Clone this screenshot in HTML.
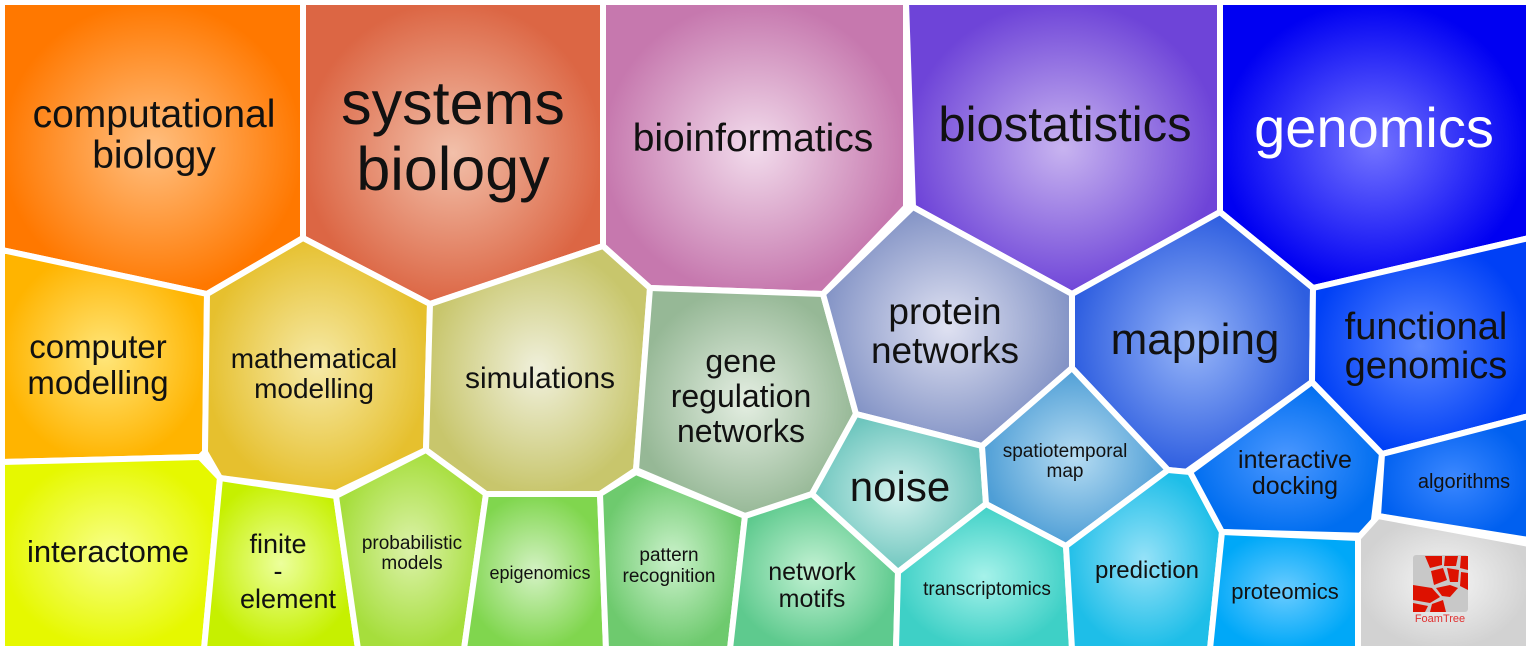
<!DOCTYPE html>
<html><head><meta charset="utf-8"><style>
html,body{margin:0;padding:0;background:#fff;}
svg{display:block;}
text{font-family:"Liberation Sans",Arial,sans-serif;text-anchor:middle;fill:#111;}
</style></head><body>
<svg width="1529" height="649" viewBox="0 0 1529 649" xmlns="http://www.w3.org/2000/svg">
<defs>
<radialGradient id="g1"><stop offset="0" stop-color="#ffbf80"/><stop offset="1" stop-color="#ff7800"/></radialGradient>
<radialGradient id="g2"><stop offset="0" stop-color="#f2c0aa"/><stop offset="1" stop-color="#dc6644"/></radialGradient>
<radialGradient id="g3"><stop offset="0" stop-color="#f2dcec"/><stop offset="1" stop-color="#c678ae"/></radialGradient>
<radialGradient id="g4"><stop offset="0" stop-color="#c8b4f0"/><stop offset="1" stop-color="#6e44d8"/></radialGradient>
<radialGradient id="g5"><stop offset="0" stop-color="#7474ff"/><stop offset="1" stop-color="#0000f2"/></radialGradient>
<radialGradient id="g6"><stop offset="0" stop-color="#ffe67a"/><stop offset="1" stop-color="#ffb400"/></radialGradient>
<radialGradient id="g7"><stop offset="0" stop-color="#f6eaa8"/><stop offset="1" stop-color="#e6c02e"/></radialGradient>
<radialGradient id="g8"><stop offset="0" stop-color="#f0f0dc"/><stop offset="1" stop-color="#c8c66c"/></radialGradient>
<radialGradient id="g9"><stop offset="0" stop-color="#e4eee2"/><stop offset="1" stop-color="#96b896"/></radialGradient>
<radialGradient id="g10"><stop offset="0" stop-color="#e0e2f2"/><stop offset="1" stop-color="#8494c6"/></radialGradient>
<radialGradient id="g11"><stop offset="0" stop-color="#98b6f8"/><stop offset="1" stop-color="#2e5ee0"/></radialGradient>
<radialGradient id="g12"><stop offset="0" stop-color="#5c88ff"/><stop offset="1" stop-color="#0040f6"/></radialGradient>
<radialGradient id="g13"><stop offset="0" stop-color="#f8ff8a"/><stop offset="1" stop-color="#e6f800"/></radialGradient>
<radialGradient id="g14"><stop offset="0" stop-color="#ecff9c"/><stop offset="1" stop-color="#c6f000"/></radialGradient>
<radialGradient id="g15"><stop offset="0" stop-color="#dcf2aa"/><stop offset="1" stop-color="#a6de3c"/></radialGradient>
<radialGradient id="g16"><stop offset="0" stop-color="#d4f2c4"/><stop offset="1" stop-color="#80d64e"/></radialGradient>
<radialGradient id="g17"><stop offset="0" stop-color="#ccf2cc"/><stop offset="1" stop-color="#6eca6e"/></radialGradient>
<radialGradient id="g18"><stop offset="0" stop-color="#c4f2d4"/><stop offset="1" stop-color="#5eca8e"/></radialGradient>
<radialGradient id="g19"><stop offset="0" stop-color="#d4f2ee"/><stop offset="1" stop-color="#6ec6be"/></radialGradient>
<radialGradient id="g20"><stop offset="0" stop-color="#b6dcf2"/><stop offset="1" stop-color="#4e9ed6"/></radialGradient>
<radialGradient id="g21"><stop offset="0" stop-color="#a6f2ea"/><stop offset="1" stop-color="#3ed0c6"/></radialGradient>
<radialGradient id="g22"><stop offset="0" stop-color="#96e2f8"/><stop offset="1" stop-color="#1ebee8"/></radialGradient>
<radialGradient id="g23"><stop offset="0" stop-color="#4c98ff"/><stop offset="1" stop-color="#006ef0"/></radialGradient>
<radialGradient id="g24"><stop offset="0" stop-color="#3c88ff"/><stop offset="1" stop-color="#0060f0"/></radialGradient>
<radialGradient id="g25"><stop offset="0" stop-color="#6accff"/><stop offset="1" stop-color="#00a8f8"/></radialGradient>
<radialGradient id="g26"><stop offset="0" stop-color="#f6f6f6"/><stop offset="1" stop-color="#d2d2d2"/></radialGradient>
</defs>
<g stroke="#fff" stroke-width="6" stroke-linejoin="round">
<polygon fill="url(#g1)" points="2,2 303,2 303,238 207,294 2,250"/>
<polygon fill="url(#g2)" points="303,2 603,2 603,246 430,304 303,238"/>
<polygon fill="url(#g3)" points="603,2 906,2 906,207 823,294 650,288 603,246"/>
<polygon fill="url(#g4)" points="906,2 1220,2 1220,212 1072,294 913,207"/>
<polygon fill="url(#g5)" points="1220,2 1529,2 1529,238 1313,288 1220,212"/>
<polygon fill="url(#g6)" points="2,250 207,294 205,452 200,457 2,462"/>
<polygon fill="url(#g7)" points="207,294 303,238 430,304 426,450 336,493 220,478 205,452"/>
<polygon fill="url(#g8)" points="430,304 603,246 650,288 636,470 600,494 486,494 426,450"/>
<polygon fill="url(#g9)" points="650,288 823,294 856,414 812,494 760,512 745,516 636,470"/>
<polygon fill="url(#g10)" points="913,207 1072,294 1072,368 982,446 856,414 823,294"/>
<polygon fill="url(#g11)" points="1220,212 1313,288 1312,382 1186,472 1168,470 1072,368 1072,294"/>
<polygon fill="url(#g12)" points="1313,288 1529,238 1529,416 1382,454 1312,382"/>
<polygon fill="url(#g13)" points="2,462 200,457 220,478 204,649 2,649"/>
<polygon fill="url(#g14)" points="220,478 336,496 358,649 204,649"/>
<polygon fill="url(#g15)" points="336,496 426,450 486,494 464,649 358,649"/>
<polygon fill="url(#g16)" points="486,494 600,494 606,649 464,649"/>
<polygon fill="url(#g17)" points="600,494 636,472 745,516 730,649 606,649"/>
<polygon fill="url(#g18)" points="745,516 812,494 898,572 896,649 730,649"/>
<polygon fill="url(#g19)" points="856,414 982,446 986,504 898,572 812,494"/>
<polygon fill="url(#g20)" points="1072,368 1168,470 1066,546 986,504 982,446"/>
<polygon fill="url(#g21)" points="986,504 1066,546 1072,649 896,649 898,572"/>
<polygon fill="url(#g22)" points="1066,546 1168,470 1190,472 1222,532 1210,649 1072,649"/>
<polygon fill="url(#g23)" points="1312,382 1382,454 1372,536 1222,532 1190,472"/>
<polygon fill="url(#g24)" points="1382,454 1529,416 1529,540 1378,516"/>
<polygon fill="url(#g25)" points="1222,532 1358,538 1358,649 1210,649"/>
<polygon fill="url(#g26)" points="1358,538 1378,516 1529,544 1529,649 1358,649"/>
</g>
<g>
<rect x="1413" y="555" width="55" height="57" rx="3" fill="#c8c8c8"/>
<g fill="#dd1100">
<polygon points="1425,556 1442,556 1442,565 1430,568"/>
<polygon points="1445,556 1458,556 1456,566 1444,566"/>
<polygon points="1461,556 1468,556 1468,570 1460,568"/>
<polygon points="1431,571 1443,568 1447,580 1434,585"/>
<polygon points="1447,568 1459,570 1458,582 1450,582"/>
<polygon points="1461,572 1468,573 1468,590 1460,586"/>
<polygon points="1413,585 1432,588 1440,597 1430,603 1413,600"/>
<polygon points="1436,588 1450,585 1458,588 1450,597 1442,596"/>
<polygon points="1413,603 1428,606 1425,612 1413,612"/>
<polygon points="1432,604 1443,600 1446,612 1430,612"/>
</g>
<text x="1440" y="622" style="font-size:11px;fill:#e03030">FoamTree</text>
</g>
<g>
<text x="154" y="127" style="font-size:39px">computational</text>
<text x="154" y="168" style="font-size:39px">biology</text>
<text x="453" y="124" style="font-size:61px">systems</text>
<text x="453" y="190" style="font-size:61px">biology</text>
<text x="753" y="151" style="font-size:39px">bioinformatics</text>
<text x="1065" y="141" style="font-size:49px">biostatistics</text>
<text x="1374" y="147" style="font-size:56px;fill:#fff">genomics</text>
<text x="98" y="358" style="font-size:33px">computer</text>
<text x="98" y="394" style="font-size:33px">modelling</text>
<text x="314" y="368" style="font-size:28px">mathematical</text>
<text x="314" y="398" style="font-size:28px">modelling</text>
<text x="540" y="388" style="font-size:30px">simulations</text>
<text x="741" y="372" style="font-size:32px">gene</text>
<text x="741" y="407" style="font-size:32px">regulation</text>
<text x="741" y="442" style="font-size:32px">networks</text>
<text x="945" y="324" style="font-size:37px">protein</text>
<text x="945" y="363" style="font-size:37px">networks</text>
<text x="1195" y="354" style="font-size:44px">mapping</text>
<text x="1426" y="339" style="font-size:38px">functional</text>
<text x="1426" y="378" style="font-size:38px">genomics</text>
<text x="108" y="562" style="font-size:31px">interactome</text>
<text x="278" y="553" style="font-size:27px">finite</text>
<text x="278" y="580" style="font-size:27px">-</text>
<text x="288" y="608" style="font-size:27px">element</text>
<text x="412" y="549" style="font-size:19px">probabilistic</text>
<text x="412" y="569" style="font-size:19px">models</text>
<text x="540" y="579" style="font-size:18px">epigenomics</text>
<text x="669" y="561" style="font-size:19px">pattern</text>
<text x="669" y="582" style="font-size:19px">recognition</text>
<text x="812" y="580" style="font-size:25px">network</text>
<text x="812" y="607" style="font-size:25px">motifs</text>
<text x="900" y="501" style="font-size:42px">noise</text>
<text x="1065" y="457" style="font-size:19px">spatiotemporal</text>
<text x="1065" y="477" style="font-size:19px">map</text>
<text x="987" y="595" style="font-size:19px">transcriptomics</text>
<text x="1147" y="578" style="font-size:24px">prediction</text>
<text x="1295" y="468" style="font-size:25px">interactive</text>
<text x="1295" y="494" style="font-size:25px">docking</text>
<text x="1464" y="488" style="font-size:20px">algorithms</text>
<text x="1285" y="599" style="font-size:22px">proteomics</text>
</g>
</svg>
</body></html>
